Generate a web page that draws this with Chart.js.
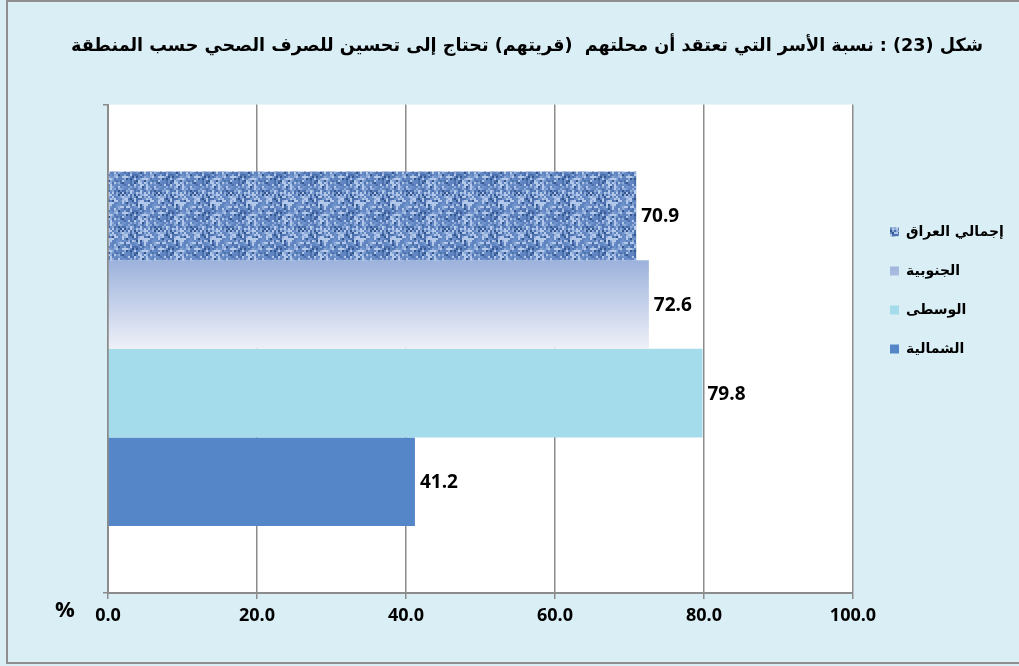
<!DOCTYPE html>
<html>
<head>
<meta charset="utf-8">
<script src="https://cdn.jsdelivr.net/npm/chart.js@4/dist/chart.umd.min.js"></script>
<style>
  html, body { margin: 0; padding: 0; background: #daeef5; }
  canvas { display: block; }
</style>
</head>
<body>
<canvas id="chart" width="1019" height="666" dir="rtl"></canvas>
<script>
// Chart data
const categories = [""];
const seriesNames = ["إجمالي العراق", "الجنوبية", "الوسطى", "الشمالية"];
const seriesValues = [70.9, 72.6, 79.8, 41.2];
const xTicks = [0, 20, 40, 60, 80, 100];
const titleText = "شكل (23) : نسبة الأسر التي تعتقد أن محلتهم  (قريتهم) تحتاج إلى تحسين للصرف الصحي حسب المنطقة";

const CAT_PCT = 0.726;

// Fabric-like texture for the first series (fixed hash, 2px cells)
function makeTexture() {
  const c = document.createElement("canvas");
  c.width = 36; c.height = 36;
  const g = c.getContext("2d");
  const tones = ["#34568f", "#4d71ae", "#5f84c0", "#6f92cb", "#8fabda", "#b4c9ea"];
  for (let y = 0; y < 18; y++) {
    for (let x = 0; x < 18; x++) {
      let h = (x * 374761393 + y * 668265263) >>> 0;
      h = ((h ^ (h >>> 13)) * 1274126177) >>> 0;
      h = (h ^ (h >>> 16)) >>> 0;
      let t = h % 6;
      if (t === 0 && (x + y) % 2) t = 2;
      g.fillStyle = tones[t];
      g.fillRect(x * 2, y * 2, 2, 2);
    }
  }
  return g.createPattern(c, "repeat");
}
const ctx = document.getElementById("chart").getContext("2d");
const texture = makeTexture();

// Vertical gradient for the second series, placed on its own bar
function gradientFill(c) {
  const chart = c.chart;
  const area = chart.chartArea;
  if (!area) return "#b7c6e6";
  const yScale = chart.scales.y;
  const center = yScale.getPixelForValue(0);
  const band = (area.bottom - area.top) * CAT_PCT;
  const top = center - band / 2 + band / 4 * c.datasetIndex;
  const g = chart.ctx.createLinearGradient(0, top, 0, top + band / 4);
  g.addColorStop(0, "#9cb2dc");
  g.addColorStop(1, "#eef0f8");
  return g;
}

const fills = [texture, gradientFill, "#a5dcec", "#5587c8"];

const datasets = seriesNames.map((name, i) => ({
  label: name,
  data: [seriesValues[i]],
  backgroundColor: fills[i],
  borderWidth: 0,
  barPercentage: 1,
  categoryPercentage: CAT_PCT
}));

const framePlugin = {
  id: "frame",
  beforeDraw(chart) {
    const { ctx, chartArea } = chart;
    ctx.save();
    ctx.fillStyle = "#daeef5";
    ctx.fillRect(0, 0, chart.width, chart.height);
    ctx.strokeStyle = "#8f8f8f";
    ctx.lineWidth = 2;
    ctx.strokeRect(7, 1, chart.width + 20, 662);
    ctx.fillStyle = "#ffffff";
    ctx.fillRect(chartArea.left, chartArea.top, chartArea.right - chartArea.left, chartArea.bottom - chartArea.top);
    ctx.restore();
  },
  afterLayout(chart) {
    // move the legend beside the plot, free of the layout width
    const lg = chart.legend;
    const h = lg.height;
    lg.left = 865; lg.right = 1019;
    lg.top = 200; lg.bottom = 200 + h;
  },
  afterDatasetsDraw(chart) {
    const { ctx } = chart;
    ctx.save();
    ctx.fillStyle = "#000";
    ctx.font = "bold 19px 'Open Sans'";
    ctx.textAlign = "left";
    ctx.textBaseline = "middle";
    chart.data.datasets.forEach((ds, i) => {
      const el = chart.getDatasetMeta(i).data[0];
      ctx.fillText(ds.data[0].toFixed(1), el.x + 5, el.y + 1);
    });
    ctx.font = "bold 22px 'Open Sans'";
    ctx.textAlign = "center";
    ctx.fillText("%", 65, 611);
    ctx.restore();
  }
};

new Chart(ctx, {
  type: "bar",
  data: { labels: categories, datasets },
  options: {
    indexAxis: "y",
    responsive: false,
    animation: false,
    layout: { padding: { left: 71, right: 36, top: 0, bottom: 0 } },
    scales: {
      x: {
        min: 0,
        max: 100,
        afterBuildTicks(scale) { scale.ticks = xTicks.map(v => ({ value: v })); },
        afterFit(scale) { scale.height = 73; },
        ticks: {
          callback: v => v.toFixed(1),
          color: "#000",
          font: { family: "'Open Sans'", size: 18, weight: "bold" },
          padding: 6
        },
        grid: { color: "#8c8c8c", lineWidth: 1.5, tickLength: 6 },
        border: { color: "#8c8c8c", width: 2 }
      },
      y: {
        afterFit(scale) { scale.width = 37; },
        ticks: { display: false },
        grid: { drawOnChartArea: false, color: "#8c8c8c", lineWidth: 1.5, tickLength: 5 },
        border: { color: "#8c8c8c", width: 2 }
      }
    },
    plugins: {
      title: {
        display: true,
        text: titleText,
        color: "#000",
        font: { family: "'DejaVu Sans'", size: 18, weight: "bold" },
        padding: { top: 36, bottom: 47 }
      },
      legend: {
        position: "right",
        align: "start",
        maxWidth: 130,
        textDirection: "rtl",
        labels: {
          color: "#000",
          font: { family: "'DejaVu Sans'", size: 14, weight: "bold" },
          boxWidth: 9,
          boxHeight: 9,
          padding: 25
        }
      },
      tooltip: { enabled: false }
    }
  },
  plugins: [framePlugin]
});
</script>
</body>
</html>
